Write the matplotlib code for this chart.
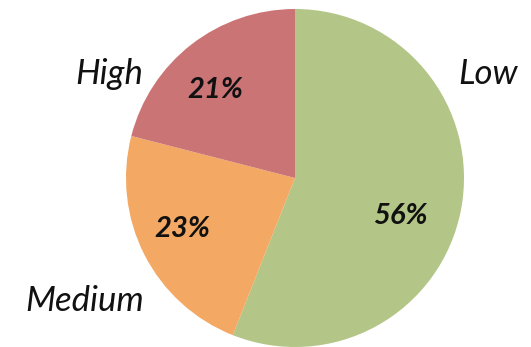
import matplotlib.pyplot as plt

categories = ['Low', 'Medium', 'High']
shares = [56, 23, 21]
colors = ['#B3C687', '#F3A864', '#CB7476']

# label spots (pixel coords, y measured from bottom)
label_pos = [(488, 273), (85, 46), (109, 273)]
pct_pos = [(400, 131), (182, 118), (215, 257)]

fig = plt.figure(figsize=(5.31, 3.47), dpi=100)
ax = fig.add_axes([0, 0, 1, 1])

wedges, texts, autotexts = ax.pie(
    shares, colors=colors, startangle=90, counterclock=False,
    center=(295, 169), radius=169, autopct='%d%%', pctdistance=0.7,
    wedgeprops={'linewidth': 0},
    textprops={'fontsize': 21, 'fontweight': 'bold', 'fontstyle': 'italic',
               'family': 'Lato', 'color': '#111111'})

for t, p in zip(autotexts, pct_pos):
    t.set_position(p)

ax.set_xlim(0, 531)
ax.set_ylim(0, 347)
ax.set_aspect('equal')
ax.axis('off')

for name, (x, y) in zip(categories, label_pos):
    ax.text(x, y, name, fontsize=25, fontstyle='italic', family='Lato',
            ha='center', va='center', color='#111111')

plt.savefig('out.png', dpi=100)
